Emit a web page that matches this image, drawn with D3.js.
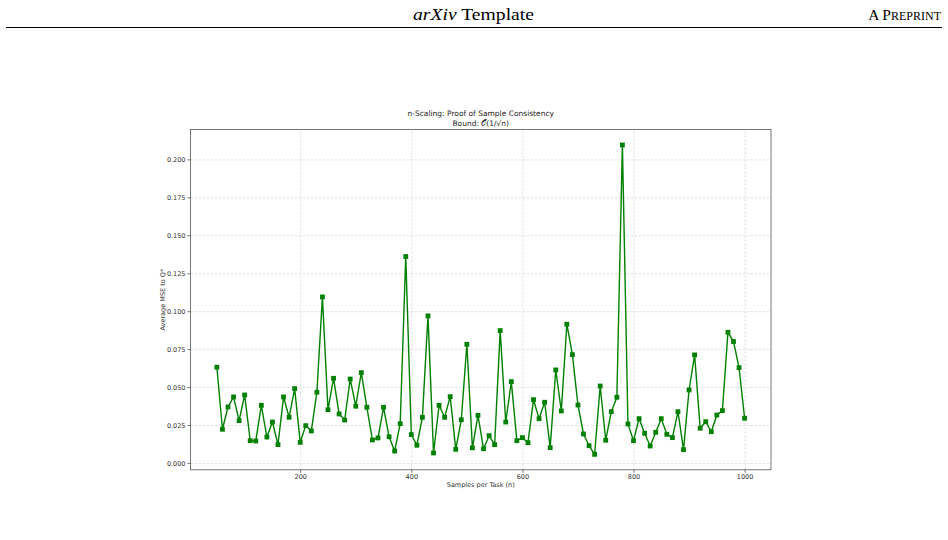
<!DOCTYPE html>
<html>
<head>
<meta charset="utf-8" />
<title>n-Scaling: Proof of Sample Consistency</title>
<style>
  body { margin: 0; background: #fff; }
  svg { display: block; }
  .axis text { font-family: "DejaVu Sans", sans-serif; font-size: 6.5px; fill: #333; }
  .axis path, .axis line { stroke: #555; stroke-width: 0.8px; }
  .grid line { stroke: #ccc; stroke-width: 0.6px; stroke-dasharray: 2.5,1.5; }
  .grid path { display: none; }
  .line { fill: none; stroke: green; stroke-width: 1.4px; }
</style>
</head>
<body>
<svg id="chart" width="948" height="540"></svg>
<script src="https://d3js.org/d3.v7.min.js"></script>
<script>
// samples per task, 50..1000 in steps of 10
var samples = [50,60,70,80,90,100,110,120,130,140,150,160,170,180,190,200,
  210,220,230,240,250,260,270,280,290,300,310,320,330,340,350,360,370,380,390,400,
  410,420,430,440,450,460,470,480,490,500,510,520,530,540,550,560,570,580,590,600,
  610,620,630,640,650,660,670,680,690,700,710,720,730,740,750,760,770,780,790,800,
  810,820,830,840,850,860,870,880,890,900,910,920,930,940,950,960,970,980,990,1000];

var mse = [0.0631,0.0222,0.0369,0.0435,0.0279,0.0448,0.0147,0.0145,0.0380,0.0171,
  0.0270,0.0121,0.0435,0.0301,0.0490,0.0136,0.0246,0.0211,0.0466,0.1094,
  0.0351,0.0558,0.0323,0.0283,0.0553,0.0374,0.0595,0.0367,0.0152,0.0165,
  0.0367,0.0173,0.0079,0.0259,0.1360,0.0187,0.0117,0.0301,0.0969,0.0066,
  0.0380,0.0301,0.0437,0.0090,0.0285,0.0782,0.0100,0.0314,0.0094,0.0180,
  0.0121,0.0872,0.0270,0.0536,0.0147,0.0167,0.0134,0.0417,0.0292,0.0400,
  0.0101,0.0613,0.0343,0.0914,0.0714,0.0382,0.0191,0.0114,0.0057,0.0507,
  0.0150,0.0338,0.0433,0.2095,0.0257,0.0147,0.0292,0.0196,0.0112,0.0202,
  0.0292,0.0189,0.0167,0.0338,0.0088,0.0481,0.0712,0.0229,0.0272,0.0206,
  0.0316,0.0345,0.0861,0.0800,0.0628,0.0295];

var xTicks = [200, 400, 600, 800, 1000];
var yTicks = [0, 0.025, 0.05, 0.075, 0.1, 0.125, 0.15, 0.175, 0.2];

var data = samples.map(function(s, i) { return {n: s, v: mse[i]}; });

var svg = d3.select("#chart");

// page header
svg.append("text")
  .attr("x", 413).attr("y", 19.5)
  .attr("textLength", 121).attr("lengthAdjust", "spacingAndGlyphs")
  .style("font-family", "'Liberation Serif', serif")
  .style("font-size", "17px")
  .call(function(t) {
    t.append("tspan").style("font-style", "italic").text("arXiv");
    t.append("tspan").text(" Template");
  });

svg.append("text")
  .attr("x", 941).attr("y", 19.5)
  .attr("text-anchor", "end")
  .style("font-family", "'Liberation Serif', serif")
  .style("font-size", "15.5px")
  .call(function(t) {
    t.append("tspan").text("A P");
    t.append("tspan").style("font-size", "12px").text("REPRINT");
  });

svg.append("line")
  .attr("x1", 6).attr("x2", 942)
  .attr("y1", 27.5).attr("y2", 27.5)
  .attr("stroke", "#000").attr("stroke-width", 1);

// plot area
var margin = {left: 190.5, top: 129.5, right: 771, bottom: 469.8};
var width = margin.right - margin.left,
    height = margin.bottom - margin.top;

var xPad = (d3.max(samples) - d3.min(samples)) * 0.05;
var yPad = (d3.max(mse) - d3.min(mse)) * 0.05;

var x = d3.scaleLinear()
  .domain([d3.min(samples) - xPad, d3.max(samples) + xPad])
  .range([0, width]);
var y = d3.scaleLinear()
  .domain([d3.min(mse) - yPad, d3.max(mse) + yPad])
  .range([height, 0]);

var g = svg.append("g").attr("transform", "translate(" + margin.left + "," + margin.top + ")");

g.append("g")
  .attr("class", "grid")
  .attr("transform", "translate(0," + height + ")")
  .call(d3.axisBottom(x).tickValues(xTicks).tickSize(-height).tickFormat(""));
g.append("g")
  .attr("class", "grid")
  .call(d3.axisLeft(y).tickValues(yTicks).tickSize(-width).tickFormat(""));

var line = d3.line()
  .x(function(d) { return x(d.n); })
  .y(function(d) { return y(d.v); });

g.append("path").datum(data).attr("class", "line").attr("d", line);

g.selectAll(".pt").data(data).enter().append("rect")
  .attr("class", "pt")
  .attr("x", function(d) { return x(d.n) - 2.4; })
  .attr("y", function(d) { return y(d.v) - 2.4; })
  .attr("width", 4.8).attr("height", 4.8)
  .attr("fill", "green");

// frame
g.append("rect")
  .attr("width", width).attr("height", height)
  .attr("fill", "none").attr("stroke", "#555").attr("stroke-width", 0.8);

g.append("g")
  .attr("class", "axis")
  .attr("transform", "translate(0," + height + ")")
  .call(d3.axisBottom(x).tickValues(xTicks).tickSize(3).tickPadding(2).tickFormat(d3.format("d")))
  .call(function(a) { a.select(".domain").remove(); });

g.append("g")
  .attr("class", "axis")
  .call(d3.axisLeft(y).tickValues(yTicks).tickSize(3).tickPadding(2).tickFormat(d3.format(".3f")))
  .call(function(a) { a.select(".domain").remove(); });

g.selectAll(".axis text").style("fill", "#333");

// labels
var lab = "'DejaVu Sans', sans-serif";
svg.append("text")
  .attr("x", (margin.left + margin.right) / 2).attr("y", 115.5)
  .attr("text-anchor", "middle")
  .style("font-family", lab).style("font-size", "7.5px").style("fill", "#222")
  .text("n-Scaling: Proof of Sample Consistency");
svg.append("text")
  .attr("x", (margin.left + margin.right) / 2).attr("y", 125.5)
  .attr("text-anchor", "middle")
  .style("font-family", lab).style("font-size", "7.5px").style("fill", "#222")
  .text("Bound: \uD835\uDCAA(1/\u221An)");

svg.append("text")
  .attr("x", (margin.left + margin.right) / 2).attr("y", 487)
  .attr("text-anchor", "middle")
  .style("font-family", lab).style("font-size", "6.5px").style("fill", "#333")
  .text("Samples per Task (n)");

svg.append("text")
  .attr("transform", "translate(165," + ((margin.top + margin.bottom) / 2) + ") rotate(-90)")
  .attr("text-anchor", "middle")
  .style("font-family", lab).style("font-size", "6.5px").style("fill", "#333")
  .text("Average MSE to Q*");
</script>
</body>
</html>
